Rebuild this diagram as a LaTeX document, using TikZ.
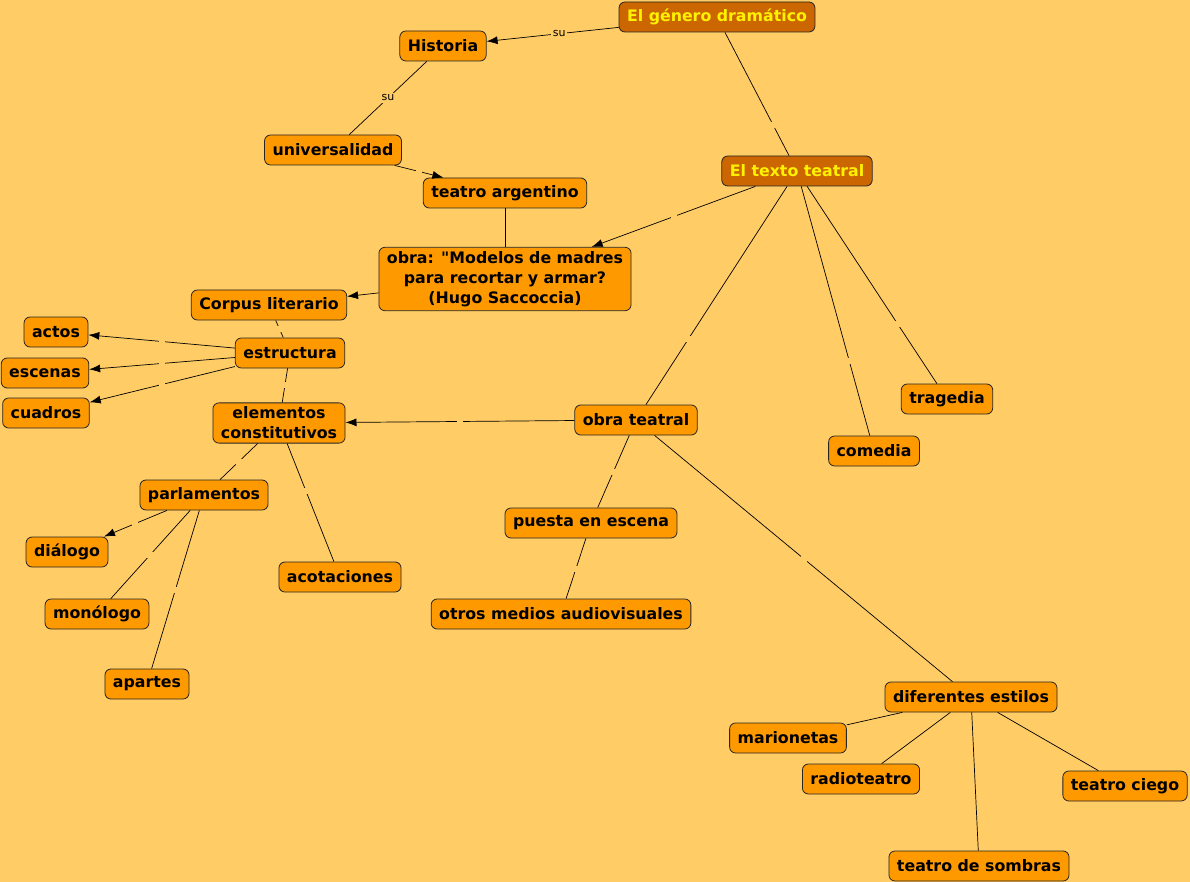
\documentclass[tikz,border=0pt]{standalone}
\usepackage{fontspec}
\setmainfont{DejaVu Sans}
\newfontfamily\recto{DejaVu Sans}
\usetikzlibrary{arrows.meta}
\definecolor{fondo}{HTML}{FFCC66}
\definecolor{naranja}{HTML}{FF9900}
\definecolor{marron}{HTML}{CC6600}

\begin{document}
\begin{tikzpicture}[x=1pt, y=-1pt,
    concepto/.style={draw=black!85, fill=naranja, rounded corners=6pt, line width=0.8pt,
      font=\fontsize{15.8}{20}\selectfont\bfseries, inner xsep=8pt, inner ysep=4pt,
      minimum height=30pt, align=center},
    principal/.style={concepto, fill=marron, text=yellow},
    enlace/.style={fill=fondo, inner sep=0pt, minimum size=6pt},
    rotulo/.style={fill=fondo, font=\fontsize{11}{12}\selectfont, inner sep=1.5pt},
    linea/.style={line width=0.7pt},
    flecha/.style={linea, -{Latex[length=11pt, width=8pt]}}]

    \fill[fondo] (0,0) rectangle (1190,882);
    \useasboundingbox (0,0) rectangle (1190,882);

    % conceptos
    \node [principal] (genero) at (717,17) {El género dramático};
    \node [concepto] (historia) at (443,46) {Historia};
    \node [concepto] (univ) at (333,150) {universalidad};
    \node [concepto] (argentino) at (505,193) {teatro argentino};
    \node [concepto] (obra) at (505,279) {obra: {\recto\bfseries"}Modelos de madres\\para recortar y armar?\\(Hugo Saccoccia)};
    \node [concepto] (corpus) at (269,305) {Corpus literario};
    \node [principal] (texto) at (797,171) {El texto teatral};
    \node [concepto] (estructura) at (290,353) {estructura};
    \node [concepto] (actos) at (56,332) {actos};
    \node [concepto] (escenas) at (45,373) {escenas};
    \node [concepto] (cuadros) at (46,413) {cuadros};
    \node [concepto] (elementos) at (279,423) {elementos\\constitutivos};
    \node [concepto] (obrateatral) at (636,420) {obra teatral};
    \node [concepto] (tragedia) at (947,399) {tragedia};
    \node [concepto] (comedia) at (874,451) {comedia};
    \node [concepto] (parlamentos) at (204,495) {parlamentos};
    \node [concepto] (dialogo) at (67,552) {diálogo};
    \node [concepto] (monologo) at (97,614) {monólogo};
    \node [concepto] (apartes) at (147,684) {apartes};
    \node [concepto] (acotaciones) at (340,577) {acotaciones};
    \node [concepto] (puesta) at (591,523) {puesta en escena};
    \node [concepto] (otros) at (561,614) {otros medios audiovisuales};
    \node [concepto] (estilos) at (971,697) {diferentes estilos};
    \node [concepto] (marionetas) at (788,738) {marionetas};
    \node [concepto] (radio) at (861,779) {radioteatro};
    \node [concepto] (ciego) at (1125,786) {teatro ciego};
    \node [concepto] (sombras) at (979,866) {teatro de sombras};

    % enlaces
    \draw [flecha] (genero) -- node[rotulo, pos=0.45] {su} (historia);
    \draw [linea] (historia) -- node[rotulo] {su} (univ);
    \draw [flecha] (univ) -- node[enlace] {} (argentino);
    \draw [linea] (argentino) -- (obra);
    \draw [linea] (genero) -- node[enlace, pos=0.75] {} (texto);
    \draw [flecha] (texto) -- node[enlace] {} (obra);
    \draw [flecha] (obra) -- (corpus);
    \draw [linea] (corpus) -- node[enlace] {} (estructura);
    \draw [flecha] (estructura) -- node[enlace] {} (actos);
    \draw [flecha] (estructura) -- node[enlace] {} (escenas);
    \draw [flecha] (estructura) -- node[enlace] {} (cuadros);
    \draw [linea] (estructura) -- node[enlace] {} (elementos);
    \draw [flecha] (obrateatral) -- node[enlace] {} (elementos);
    \draw [linea] (texto) -- node[enlace, pos=0.7] {} (obrateatral);
    \draw [linea] (texto) -- node[enlace, pos=0.7] {} (comedia);
    \draw [linea] (texto) -- node[enlace, pos=0.7] {} (tragedia);
    \draw [linea] (elementos) -- node[enlace] {} (parlamentos);
    \draw [linea] (elementos) -- node[enlace, pos=0.4] {} (acotaciones);
    \draw [flecha] (parlamentos) -- node[enlace] {} (dialogo);
    \draw [linea] (parlamentos) -- node[enlace] {} (monologo);
    \draw [linea] (parlamentos) -- node[enlace] {} (apartes);
    \draw [linea] (obrateatral) -- node[enlace] {} (puesta);
    \draw [linea] (puesta) -- node[enlace] {} (otros);
    \draw [linea] (obrateatral) -- node[enlace] {} (estilos);
    \draw [linea] (estilos) -- (marionetas);
    \draw [linea] (estilos) -- (radio);
    \draw [linea] (estilos) -- (ciego);
    \draw [linea] (estilos) -- (sombras);
\end{tikzpicture}
\end{document}
